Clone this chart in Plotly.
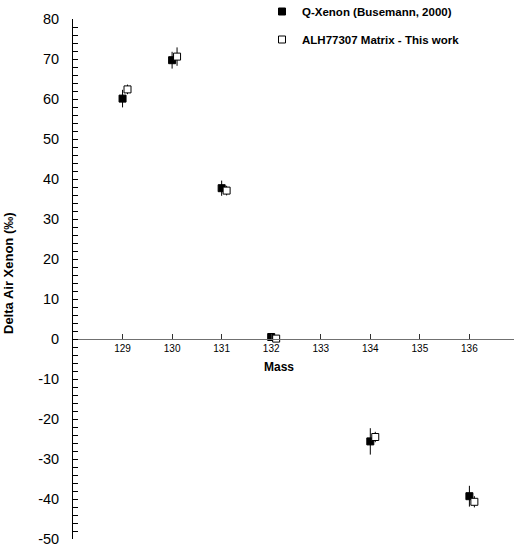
import plotly.graph_objects as go

# Data
masses = [129, 130, 131, 132, 134, 136]
q_xenon = [60.1, 69.7, 37.7, 0.5, -25.6, -39.3]
q_xenon_err = [2.2, 2.1, 1.9, 1.0, 3.3, 2.6]
alh_matrix = [62.4, 70.6, 37.1, 0.1, -24.5, -40.7]
alh_matrix_err = [1.2, 2.3, 1.2, 0.3, 1.3, 1.4]
tick_masses = [129, 130, 131, 132, 133, 134, 135, 136]
y_ticks = list(range(-50, 81, 10))

offset = 0.1  # horizontal shift of the second series

W, H = 514, 552
L, R, T, B = 73, 0, 19, 13

fig = go.Figure()
fig.add_trace(go.Scatter(
    x=masses, y=q_xenon, mode="markers", name="Q-Xenon (Busemann, 2000)",
    marker=dict(symbol="square", size=7, color="black", line=dict(color="black", width=1)),
    error_y=dict(type="data", array=q_xenon_err, visible=True, color="black", thickness=1, width=0),
    legendgroup="a",
))
fig.add_trace(go.Scatter(
    x=[m + offset for m in masses], y=alh_matrix, mode="markers", name="ALH77307 Matrix - This work",
    marker=dict(symbol="square", size=7, color="white", line=dict(color="black", width=1)),
    error_y=dict(type="data", array=alh_matrix_err, visible=True, color="black", thickness=1, width=0),
    legendgroup="b",
))

plot_w = W - L - R
plot_h = H - T - B
ymin, ymax = -50, 80

fig.update_layout(
    width=W, height=H,
    margin=dict(l=L, r=R, t=T, b=B, pad=0, autoexpand=False),
    paper_bgcolor="white", plot_bgcolor="white",
    font=dict(family="Liberation Sans, Arial, sans-serif", color="black"),
    showlegend=True,
    legend=dict(
        x=(262 - L) / plot_w, y=1 + (T + 3) / plot_h, xanchor="left", yanchor="top",
        font=dict(size=11.5, family="Liberation Sans, Arial, sans-serif", weight="bold"),
        bgcolor="rgba(0,0,0,0)", tracegroupgap=9, itemsizing="trace",
    ),
    xaxis=dict(
        range=[128, 136.9], tickmode="array", tickvals=tick_masses,
        ticktext=[str(t) for t in tick_masses],
        showgrid=False, zeroline=False, showline=True, linecolor="#707070", linewidth=1,
        ticks="inside", ticklen=5, tickcolor="#303030", tickwidth=1,
        tickfont=dict(size=10),
        anchor="free", position=(0 - ymin) / (ymax - ymin),
    ),
    yaxis=dict(
        range=[ymin, ymax], tickmode="array", tickvals=y_ticks,
        ticktext=[str(v) for v in y_ticks],
        showgrid=False, zeroline=False, showline=True, linecolor="black", linewidth=1,
        ticks="inside", ticklen=5, tickcolor="black", tickwidth=1,
        tickfont=dict(size=14.5), ticklabelstandoff=10,
        minor=dict(dtick=2, ticks="inside", ticklen=5, tickcolor="black", showgrid=False),
        domain=[0, 1],
    ),
    annotations=[
        dict(
            text="<b>Delta Air Xenon (‰)</b>", textangle=-90,
            xref="paper", yref="paper",
            x=(8 - L) / plot_w, y=(H - B - 273) / plot_h,
            xanchor="center", yanchor="middle", showarrow=False,
            font=dict(size=13),
        ),
        dict(
            text="<b>Mass</b>",
            xref="paper", yref="paper",
            x=(279 - L) / plot_w, y=(H - B - 367) / plot_h,
            xanchor="center", yanchor="middle", showarrow=False,
            font=dict(size=12),
        ),
    ],
)

fig.write_html(
    "out.html",
    config={"displayModeBar": False},
    post_script="document.body.style.margin='0';",
)
